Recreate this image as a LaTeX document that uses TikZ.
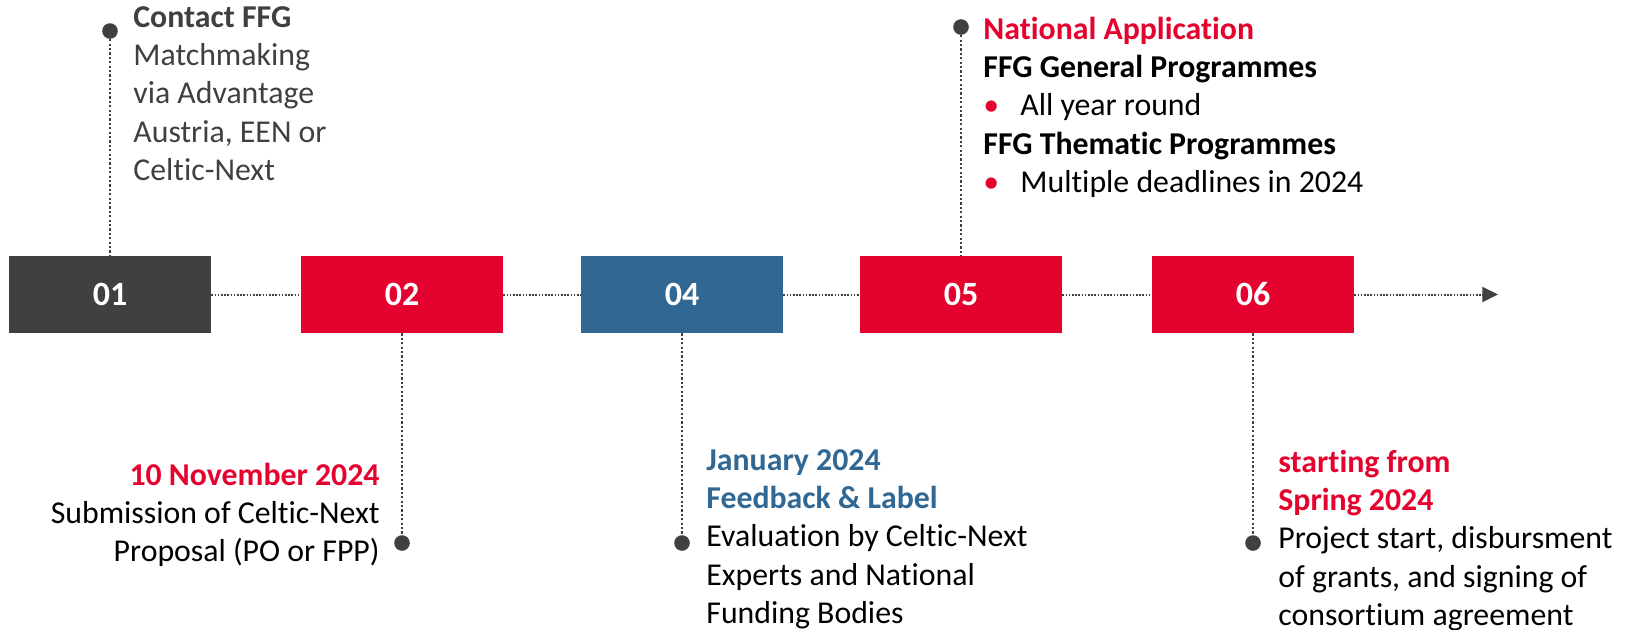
\documentclass[tikz,border=0pt]{standalone}
\usepackage{fontspec}
\setmainfont{Carlito}[Ligatures=NoCommon]
\usepackage{xcolor}
\usetikzlibrary{arrows.meta}

\definecolor{ffgred}{HTML}{E4032E}
\definecolor{ffgblue}{HTML}{316893}
\definecolor{ffggrey}{HTML}{404040}

\newcommand{\stepfont}{\fontsize{15.9pt}{19.2pt}\selectfont}
\newcommand{\redbullet}{\makebox[18.5pt][l]{\textcolor{ffgred}{\textbullet}}}

\begin{document}
\begin{tikzpicture}[x=0.5pt,y=-0.5pt,
    numbox/.style={minimum width=101pt,minimum height=38.5pt,inner sep=0pt,
      text=white,font=\fontsize{17pt}{19pt}\selectfont\bfseries},
    stepdot/.style={circle,fill=ffggrey,inner sep=0pt,minimum size=7.8pt},
    vline/.style={draw=ffggrey,line width=1pt,dash pattern=on 1.1pt off 1.1pt},
    hline/.style={draw=ffggrey,line width=1pt,dash pattern=on 0.8pt off 0.8pt},
    steptext/.style={inner sep=0pt,font=\stepfont}]
      \useasboundingbox (0,0) rectangle (1629,629);

      % the steps on the time line
      \node[numbox,fill=ffggrey] (b01) at (110,294.5){01};
      \node[numbox,fill=ffgred] (b02) at (402,294.5){02};
      \node[numbox,fill=ffgblue] (b04) at (682,294.5){04};
      \node[numbox,fill=ffgred] (b05) at (961,294.5){05};
      \node[numbox,fill=ffgred] (b06) at (1253,294.5){06};
      \coordinate (tip) at (1498,294.5);

      \draw[hline] (b01) -- (b02);
      \draw[hline] (b02) -- (b04);
      \draw[hline] (b04) -- (b05);
      \draw[hline] (b05) -- (b06);
      \draw[hline,-{Triangle[length=7.8pt,width=7.5pt]}] (b06) -- (tip);

      % pins
      \node[stepdot] (d01) at (110,31){};
      \node[stepdot] (d02) at (402,543){};
      \node[stepdot] (d04) at (682,543){};
      \node[stepdot] (d05) at (961,27){};
      \node[stepdot] (d06) at (1253,543){};

      \draw[vline] (d01) -- (b01);
      \draw[vline] (b02) -- (d02);
      \draw[vline] (b04) -- (d04);
      \draw[vline] (d05) -- (b05);
      \draw[vline] (b06) -- (d06);

      % texts
      \node[steptext,anchor=base west,text=ffggrey] (t01) at (133,27){\begin{tabular}[t]{@{}l@{}}
        \textbf{Contact FFG}\\ Matchmaking\\ via Advantage\\ Austria, EEN or\\ Celtic-Next\end{tabular}};
      \node[steptext,anchor=base east] (t02) at (380,485){\begin{tabular}[t]{@{}r@{}}
        \textcolor{ffgred}{\textbf{10 November 2024}}\\ Submission of Celtic-Next\\ Proposal (PO or FPP)\end{tabular}};
      \node[steptext,anchor=base west] (t04) at (706,470){\begin{tabular}[t]{@{}l@{}}
        \textcolor{ffgblue}{\textbf{January 2024}}\\ \textcolor{ffgblue}{\textbf{Feedback \& Label}}\\
        Evaluation by Celtic-Next\\ Experts and National\\ Funding Bodies\end{tabular}};
      \node[steptext,anchor=base west] (t05) at (983,39){\begin{tabular}[t]{@{}l@{}}
        \textcolor{ffgred}{\textbf{National Application}}\\ \textbf{FFG General Programmes}\\
        \redbullet All year round\\ \textbf{FFG Thematic Programmes}\\
        \redbullet Multiple deadlines in 2024\end{tabular}};
      \node[steptext,anchor=base west] (t06) at (1278,472){\begin{tabular}[t]{@{}l@{}}
        \textcolor{ffgred}{\textbf{starting from}}\\ \textcolor{ffgred}{\textbf{Spring 2024}}\\
        Project start, disbursment\\ of grants, and signing of\\ consortium agreement\end{tabular}};
    \end{tikzpicture}
\end{document}
